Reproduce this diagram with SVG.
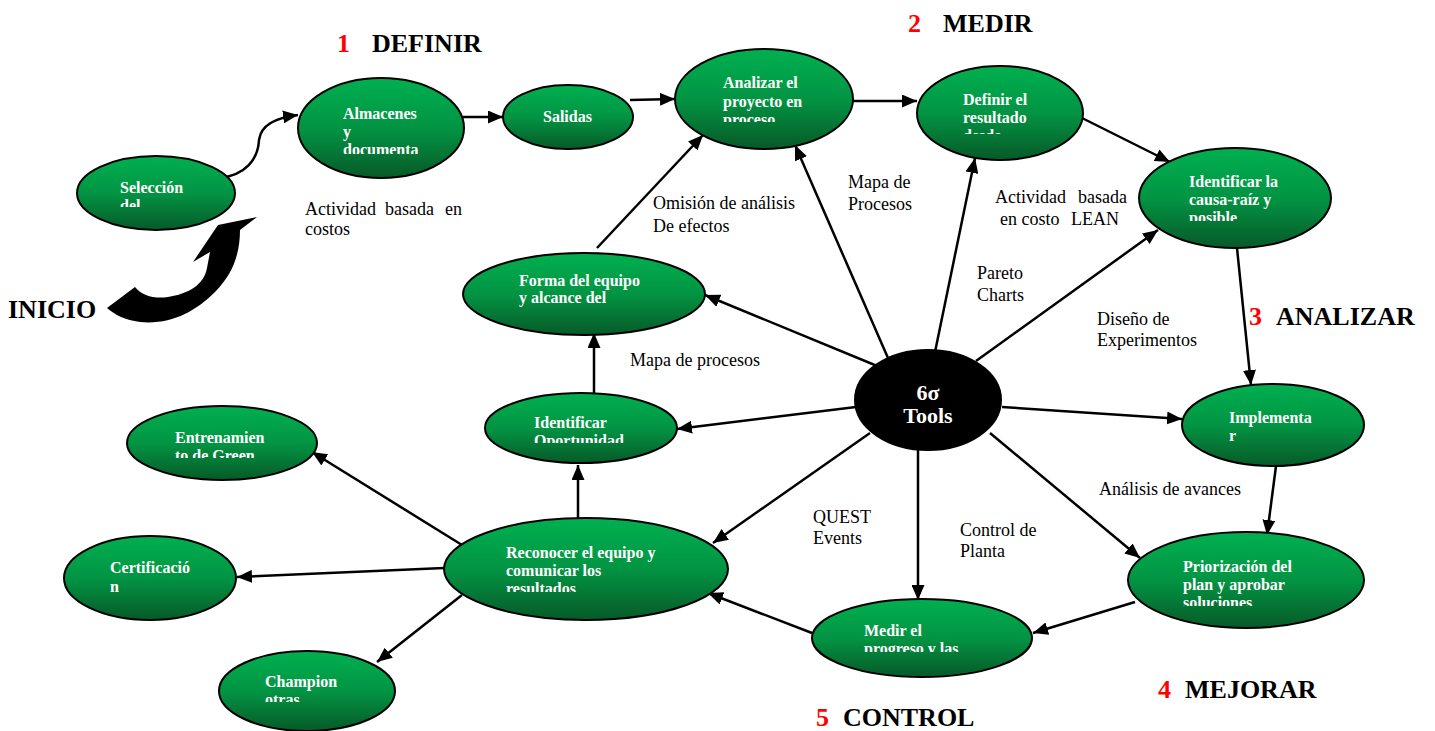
<svg xmlns="http://www.w3.org/2000/svg" width="1435" height="731" viewBox="0 0 1435 731">
<style>
.n{stroke:#000;stroke-width:2;fill:url(#g)}
.t{font-family:"Liberation Serif","Times New Roman",serif;font-weight:bold;font-size:16px;fill:#fff}
.l{font-family:"Liberation Serif","Times New Roman",serif;font-size:18px;fill:#000}
.h{font-family:"Liberation Serif","Times New Roman",serif;font-weight:bold;font-size:26px;fill:#000}
.r{fill:#f00}
.c{fill:none;stroke:#000;stroke-width:2.5;marker-end:url(#a)}
</style>
<defs>
<linearGradient id="g" x1="0" y1="0" x2="0" y2="1">
<stop offset="0" stop-color="#00b050"/>
<stop offset="0.5" stop-color="#029443"/>
<stop offset="1" stop-color="#075a28"/>
</linearGradient>
<marker id="a" markerUnits="userSpaceOnUse" markerWidth="15" markerHeight="13" refX="15" refY="6.5" orient="auto">
<path d="M0,0 L15,6.5 L0,13 Z" fill="#000"/>
</marker>
<clipPath id="c1"><rect x="0" y="0" width="1435" height="207"/></clipPath>
<clipPath id="c2"><rect x="0" y="0" width="1435" height="154"/></clipPath>
<clipPath id="c4"><rect x="0" y="0" width="1435" height="122"/></clipPath>
<clipPath id="c5"><rect x="0" y="0" width="1435" height="134"/></clipPath>
<clipPath id="c6"><rect x="0" y="0" width="1435" height="221"/></clipPath>
<clipPath id="c7"><rect x="0" y="0" width="1435" height="424"/></clipPath>
<clipPath id="c9"><rect x="0" y="0" width="1435" height="606"/></clipPath>
<clipPath id="c10"><rect x="0" y="0" width="1435" height="652"/></clipPath>
<clipPath id="c11"><rect x="0" y="0" width="1435" height="592"/></clipPath>
<clipPath id="c12"><rect x="0" y="0" width="1435" height="443"/></clipPath>
<clipPath id="c14"><rect x="0" y="0" width="1435" height="458"/></clipPath>
<clipPath id="c16"><rect x="0" y="0" width="1435" height="702"/></clipPath>
</defs>
<rect width="1435" height="731" fill="#fff"/>

<g id="connectors">
<path class="c" d="M220,178 C245,175 258,160 259,140 C261,125 275,118 298,115"/>
<path class="c" d="M463,117 L503,117"/>
<path class="c" d="M630,100 L675,99"/>
<path class="c" d="M853,101 L917,101"/>
<path class="c" d="M1082,118 L1170,162"/>
<path class="c" d="M1237,248 L1251,385"/>
<path class="c" d="M1276,466 L1267,535"/>
<path class="c" d="M1135,602 L1033,633"/>
<path class="c" d="M812,633 L708,593"/>
<path class="c" d="M578,518 L578,465"/>
<path class="c" d="M594,393 L594,333"/>
<path class="c" d="M597,248 L703,135"/>
<path class="c" d="M462,545 L312,452"/>
<path class="c" d="M444,568 L237,577"/>
<path class="c" d="M462,595 L377,662"/>
<path class="c" d="M888,358 L795,145"/>
<path class="c" d="M935,352 L975,158"/>
<path class="c" d="M976,361 L1158,230"/>
<path class="c" d="M882,368 L705,295"/>
<path class="c" d="M856,407 L677,429"/>
<path class="c" d="M1002,407 L1182,419"/>
<path class="c" d="M990,433 L1140,558"/>
<path class="c" d="M918,450 L918,600"/>
<path class="c" d="M870,433 L713,543"/>
<path d="M107,308 L135,287 C142,296 155,299 168,297 C188,294 204,285 207,268 L210,252 L193,262 L218,225 L257,217 L240,230 C240,255 232,275 215,292 C195,312 170,325 140,322 C125,320 115,315 107,308 Z" fill="#000"/>
</g>

<g id="n1"><ellipse class="n" cx="156" cy="193" rx="79" ry="37"/><text class="t" clip-path="url(#c1)"><tspan x="120" y="193">Selección</tspan><tspan x="120" y="211">del</tspan></text></g>
<g id="n2"><ellipse class="n" cx="381" cy="128" rx="83" ry="50"/><text class="t" clip-path="url(#c2)"><tspan x="343" y="119">Almacenes</tspan><tspan x="343" y="137">y</tspan><tspan x="343" y="155">documenta</tspan></text></g>
<g id="n3"><ellipse class="n" cx="568" cy="117" rx="65" ry="32"/><text class="t" x="543" y="122">Salidas</text></g>
<g id="n4"><ellipse class="n" cx="764" cy="99" rx="89" ry="50"/><text class="t" clip-path="url(#c4)"><tspan x="723" y="88">Analizar el</tspan><tspan x="723" y="107">proyecto en</tspan><tspan x="723" y="125">proceso</tspan></text></g>
<g id="n5"><ellipse class="n" cx="1000" cy="113" rx="83" ry="47"/><text class="t" clip-path="url(#c5)"><tspan x="963" y="105">Definir el</tspan><tspan x="963" y="123">resultado</tspan><tspan x="963" y="141">desde</tspan></text></g>
<g id="n6"><ellipse class="n" cx="1235" cy="198" rx="96" ry="50"/><text class="t" clip-path="url(#c6)"><tspan x="1189" y="187">Identificar la</tspan><tspan x="1189" y="205">causa-raíz y</tspan><tspan x="1189" y="223">posible</tspan></text></g>
<g id="n7"><ellipse cx="928" cy="400" rx="73" ry="50" fill="#000" stroke="#000" stroke-width="2"/><text class="t" style="font-size:22px" text-anchor="middle" clip-path="url(#c7)"><tspan x="928" y="400">6σ</tspan><tspan x="928" y="423">Tools</tspan></text></g>
<g id="n8"><ellipse class="n" cx="1273" cy="425" rx="91" ry="41"/><text class="t"><tspan x="1229" y="423">Implementa</tspan><tspan x="1229" y="441">r</tspan></text></g>
<g id="n9"><ellipse class="n" cx="1246" cy="580" rx="118" ry="48"/><text class="t" clip-path="url(#c9)"><tspan x="1183" y="572">Priorización del</tspan><tspan x="1183" y="590">plan y aprobar</tspan><tspan x="1183" y="608">soluciones</tspan></text></g>
<g id="n10"><ellipse class="n" cx="922" cy="638" rx="110" ry="39"/><text class="t" clip-path="url(#c10)"><tspan x="864" y="636">Medir el</tspan><tspan x="864" y="654">progreso y las</tspan></text></g>
<g id="n11"><ellipse class="n" cx="586" cy="569" rx="142" ry="51"/><text class="t" clip-path="url(#c11)"><tspan x="506" y="558">Reconocer el equipo y</tspan><tspan x="506" y="576">comunicar los</tspan><tspan x="506" y="594">resultados</tspan></text></g>
<g id="n12"><ellipse class="n" cx="581" cy="428" rx="96" ry="35"/><text class="t" clip-path="url(#c12)"><tspan x="534" y="428">Identificar</tspan><tspan x="534" y="446">Oportunidad</tspan></text></g>
<g id="n13"><ellipse class="n" cx="584" cy="294" rx="121" ry="41"/><text class="t"><tspan x="519" y="286">Forma del equipo</tspan><tspan x="519" y="303">y alcance del</tspan></text></g>
<g id="n14"><ellipse class="n" cx="222" cy="443" rx="95" ry="37"/><text class="t" clip-path="url(#c14)"><tspan x="175" y="443">Entrenamien</tspan><tspan x="175" y="461">to de Green</tspan></text></g>
<g id="n15"><ellipse class="n" cx="150" cy="578" rx="86" ry="42"/><text class="t"><tspan x="110" y="573">Certificació</tspan><tspan x="110" y="592">n</tspan></text></g>
<g id="n16"><ellipse class="n" cx="307" cy="691" rx="88" ry="40"/><text class="t" clip-path="url(#c16)"><tspan x="265" y="687">Champion</tspan><tspan x="265" y="705">otras</tspan></text></g>

<g id="labels">
<text class="l"><tspan x="305" y="215">Actividad</tspan><tspan x="385" y="215">basada</tspan><tspan x="445" y="215">en</tspan><tspan x="305" y="235">costos</tspan></text>
<text class="l"><tspan x="653" y="209">Omisión de análisis</tspan><tspan x="653" y="232">De efectos</tspan></text>
<text class="l"><tspan x="848" y="188">Mapa de</tspan><tspan x="848" y="210">Procesos</tspan></text>
<text class="l"><tspan x="995" y="203">Actividad</tspan><tspan x="1078" y="203">basada</tspan><tspan x="1000" y="225">en costo</tspan><tspan x="1071" y="225">LEAN</tspan></text>
<text class="l"><tspan x="977" y="279">Pareto</tspan><tspan x="977" y="301">Charts</tspan></text>
<text class="l"><tspan x="1097" y="325">Diseño de</tspan><tspan x="1097" y="346">Experimentos</tspan></text>
<text class="l" x="630" y="366">Mapa de procesos</text>
<text class="l" x="1099" y="495">Análisis de avances</text>
<text class="l"><tspan x="813" y="523">QUEST</tspan><tspan x="813" y="544">Events</tspan></text>
<text class="l"><tspan x="960" y="536">Control de</tspan><tspan x="960" y="557">Planta</tspan></text>
</g>

<g id="titles">
<text class="h" x="337" y="52"><tspan class="r">1</tspan><tspan x="372">DEFINIR</tspan></text>
<text class="h" x="908" y="32"><tspan class="r">2</tspan><tspan x="943">MEDIR</tspan></text>
<text class="h" x="1249" y="325"><tspan class="r">3</tspan><tspan x="1276">ANALIZAR</tspan></text>
<text class="h" x="1158" y="698"><tspan class="r">4</tspan><tspan x="1185">MEJORAR</tspan></text>
<text class="h" x="816" y="726"><tspan class="r">5</tspan><tspan x="843">CONTROL</tspan></text>
<text class="h" x="8" y="318">INICIO</text>
</g>
</svg>
